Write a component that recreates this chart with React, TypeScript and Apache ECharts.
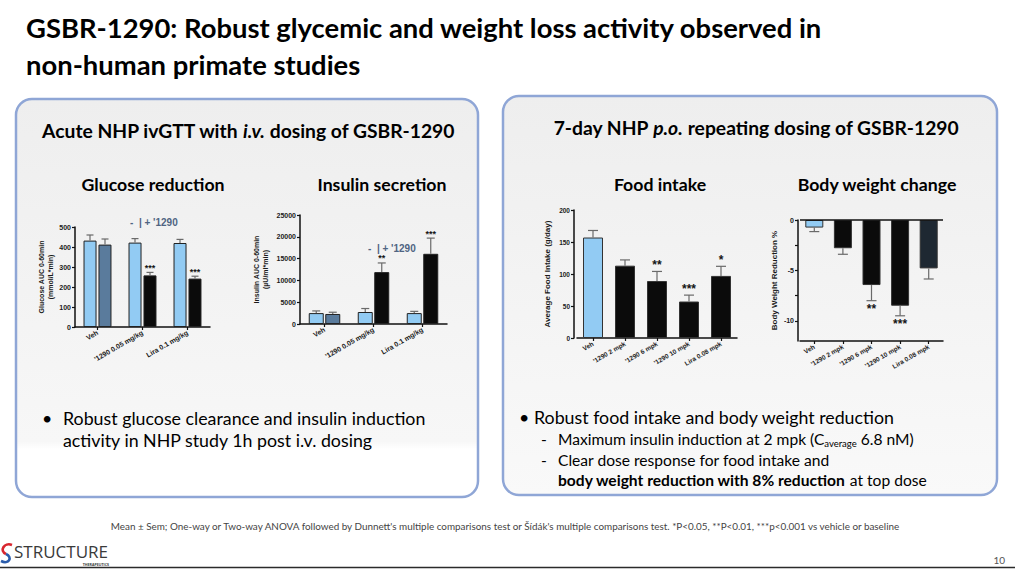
import React, { useEffect, useRef } from "react";
import * as echarts from "echarts";

const FONT = "Lato, 'Noto Sans', sans-serif";
const AXF = "'Liberation Sans', Arial, sans-serif";

const LIGHT = "#92cbf3";
const SLATE = "#5a7b9c";
const BLACK = "#0b0b0b";
const DARKSLATE = "#1e2832";
const ERR = "#6a6a6a";

// ---- Glucose reduction (ivGTT) ----
const ivCategories = ["Veh", "'1290 0.05 mg/kg", "Lira 0.1 mg/kg"];
const glucoseMinus = [432, 422, 420];
const glucoseMinusErr = [28, 20, 18];
const glucosePlus = [412, 258, 242];
const glucosePlusErr = [28, 15, 12];
const glucosePlusStars = ["", "***", "***"];
const glucoseTicks = { min: 0, max: 500, interval: 100 };

// ---- Insulin secretion (ivGTT) ----
const insulinMinus = [2500, 2750, 2500];
const insulinMinusErr = [500, 800, 400];
const insulinPlus = [2300, 11900, 16100];
const insulinPlusErr = [400, 2100, 3600];
const insulinPlusStars = ["", "**", "***"];
const insulinTicks = { min: 0, max: 25000, interval: 5000 };

// ---- 7-day p.o. dosing ----
const doseCategories = ["Veh", "'1290 2 mpk", "'1290 6 mpk", "'1290 10 mpk", "Lira 0.08 mpk"];
const foodIntake = [157, 113, 89, 57, 97];
const foodErr = [11, 9, 15, 10, 15];
const foodStars = ["", "", "**", "***", "*"];
const foodTicks = { min: 0, max: 200, interval: 50 };

const bodyWeight = [-0.75, -2.8, -6.45, -8.5, -4.8];
const bodyErr = [0.4, 0.6, 1.55, 1.0, 1.05];
const bodyStars = ["", "", "**", "***", ""];
const bodyLabels = [0, -5, -10];
const bodyTickValues = [0, -2.5, -5, -7.5, -10];

const ivColorsPlus = [SLATE, BLACK, BLACK];
const foodColors = [LIGHT, BLACK, BLACK, BLACK, BLACK];
const bodyColors = [LIGHT, BLACK, BLACK, BLACK, DARKSLATE];

function barData(values: number[], colors: string[]) {
  return values.map((v, i) => ({ value: v, itemStyle: { color: colors[i] } }));
}

function errSeries(
  xi: number,
  values: number[],
  errs: number[],
  stars: string[],
  offsetPx: number,
  capHalf: number,
  dir: number,
  starSize: number,
  starGap: number
) {
  return {
    type: "custom",
    xAxisIndex: xi,
    yAxisIndex: xi,
    z: 5,
    silent: true,
    data: values.map((v, i) => [i, v, v + dir * errs[i]]),
    encode: { x: 0, y: [1, 2] },
    renderItem: (params: any, api: any) => {
      const i = api.value(0);
      const base = api.coord([i, api.value(1)]);
      const tip = api.coord([i, api.value(2)]);
      const x = base[0] + offsetPx;
      const star = stars[params.dataIndex];
      const children: any[] = [
        { type: "line", shape: { x1: x, y1: base[1], x2: x, y2: tip[1] }, style: { stroke: ERR, lineWidth: 1.2 } },
        { type: "line", shape: { x1: x - capHalf, y1: tip[1], x2: x + capHalf, y2: tip[1] }, style: { stroke: ERR, lineWidth: 1.2 } },
      ];
      if (star) {
        children.push({
          type: "text",
          x,
          y: tip[1] + (dir > 0 ? -starGap : starGap),
          style: {
            text: star,
            fill: "#151515",
            font: `bold ${starSize}px ${AXF}`,
            align: "center",
            verticalAlign: dir > 0 ? "bottom" : "top",
          },
        });
      }
      return { type: "group", children };
    },
  };
}

const axisLineStyle = { lineStyle: { color: "#111", width: 1.5 } };

function catAxis(gridIndex: number, cats: string[], fontSize: number, extra: any = {}) {
  return {
    type: "category",
    gridIndex,
    data: cats,
    axisLine: { show: true, onZero: false, ...axisLineStyle },
    axisTick: { show: true, alignWithLabel: true, length: 3, lineStyle: { color: "#111", width: 1.2 } },
    axisLabel: {
      rotate: 30,
      interval: 0,
      margin: 5,
      fontSize,
      fontWeight: "bold",
      fontFamily: AXF,
      color: "#1a1a1a",
    },
    ...extra,
  };
}

const plainNum = (v: number) => String(v);

function valAxis(gridIndex: number, t: any, name: string, nameGap: number, nameSize: number, labelSize: number, extra: any = {}) {
  return {
    type: "value",
    gridIndex,
    min: t.min,
    max: t.max,
    interval: t.interval,
    name,
    nameLocation: "middle",
    nameGap,
    nameRotate: 90,
    nameTextStyle: { fontSize: nameSize, fontWeight: "bold", fontFamily: AXF, color: "#1a1a1a", lineHeight: nameSize + 2 },
    axisLine: { show: true, ...axisLineStyle },
    axisTick: { show: true, length: 3, lineStyle: { color: "#111", width: 1.2 } },
    axisLabel: { fontSize: labelSize, fontWeight: "bold", fontFamily: AXF, color: "#1a1a1a", margin: 4, formatter: plainNum },
    splitLine: { show: false },
    ...extra,
  };
}

function txt(x: number, y: number, text: string, size: number, weight: string | number, align = "left", fill = "#000", extra: any = {}) {
  return {
    type: "text",
    x,
    y,
    z: 20,
    style: {
      text,
      fill,
      fontSize: size,
      fontWeight: weight,
      fontFamily: FONT,
      align,
      verticalAlign: "middle",
      textAlign: align,
      textVerticalAlign: "middle",
      ...extra,
    },
  };
}

function richTxt(x: number, y: number, text: string, rich: any, align = "left") {
  return {
    type: "text",
    x,
    y,
    z: 20,
    style: { text, rich, align, verticalAlign: "middle", textAlign: align, textVerticalAlign: "middle" },
  };
}

export default function App() {
  const ref = useRef<HTMLDivElement>(null);

  useEffect(() => {
    if (!ref.current) return;
    const chart = echarts.init(ref.current, undefined, { renderer: "svg" });

    const panelFill = new echarts.graphic.LinearGradient(0, 0, 0, 1, [
      { offset: 0, color: "#eeeeee" },
      { offset: 0.86, color: "#f7f7f7" },
      { offset: 0.88, color: "#ffffff" },
      { offset: 1, color: "#ffffff" },
    ]);
    const panelFill2 = new echarts.graphic.LinearGradient(0, 0, 0, 1, [
      { offset: 0, color: "#eeeeee" },
      { offset: 1, color: "#f9f9f9" },
    ]);

    const bodyRich = {
      n: { fontSize: 17.8, fontFamily: FONT, color: "#000", lineHeight: 22 },
    };
    const subRich = {
      n: { fontSize: 15.6, fontFamily: FONT, color: "#000", lineHeight: 18, verticalAlign: "middle" },
      s: { fontSize: 9.5, fontFamily: FONT, color: "#000", lineHeight: 10, verticalAlign: "bottom" },
      b: { fontSize: 15.6, fontFamily: FONT, color: "#000", fontWeight: "bold", lineHeight: 18 },
    };
    const headRich = (size: number) => ({
      b: { fontSize: size, fontFamily: FONT, fontWeight: "bold", color: "#000" },
      i: { fontSize: size, fontFamily: FONT, fontWeight: "bold", fontStyle: "italic", color: "#000" },
    });

    const option: any = {
      animation: false,
      backgroundColor: "#ffffff",
      grid: [
        { left: 75, top: 227, width: 135, height: 100 },
        { left: 300, top: 215, width: 147, height: 109 },
        { left: 577, top: 210, width: 160, height: 128 },
        { left: 800, top: 220, width: 143, height: 121 },
      ],
      xAxis: [
        catAxis(0, ivCategories, 7),
        catAxis(1, ivCategories, 7),
        catAxis(2, doseCategories, 6.5),
        catAxis(3, doseCategories, 6.5, { position: "bottom" }),
      ],
      yAxis: [
        valAxis(0, glucoseTicks, "Glucose AUC 0-60min\n(mmol/L*min)", 18, 7, 7),
        valAxis(1, insulinTicks, "Insulin AUC 0-60min\n(µU/ml*min)", 30, 7, 7),
        valAxis(2, foodTicks, "Average Food Intake (g/day)", 22, 8, 6.5, { offset: 3 }),
        valAxis(3, { min: -12, max: 0 }, "Body Weight Reduction %", 17, 8, 7, {
          offset: 2,
          interval: undefined,
          axisLabel: { customValues: bodyLabels, fontSize: 7, fontWeight: "bold", fontFamily: AXF, color: "#1a1a1a", margin: 4 },
          axisTick: { show: true, length: 3, customValues: bodyTickValues, lineStyle: { color: "#111", width: 1.2 } },
        }),
      ],
      series: [
        // Glucose
        {
          type: "bar", xAxisIndex: 0, yAxisIndex: 0, barWidth: 13, barGap: "15%",
          data: barData(glucoseMinus, ivCategories.map(() => LIGHT)),
          itemStyle: { borderColor: "#222", borderWidth: 1 },
        },
        {
          type: "bar", xAxisIndex: 0, yAxisIndex: 0, barWidth: 13, barGap: "15%",
          data: barData(glucosePlus, ivColorsPlus),
          itemStyle: { borderColor: "#222", borderWidth: 1 },
        },
        errSeries(0, glucoseMinus, glucoseMinusErr, ["", "", ""], -7.5, 3.5, 1, 9, 0),
        errSeries(0, glucosePlus, glucosePlusErr, glucosePlusStars, 7.5, 3.5, 1, 9, 0),
        // Insulin
        {
          type: "bar", xAxisIndex: 1, yAxisIndex: 1, barWidth: 15, barGap: "10%",
          data: barData(insulinMinus, ivCategories.map(() => LIGHT)),
          itemStyle: { borderColor: "#222", borderWidth: 1 },
        },
        {
          type: "bar", xAxisIndex: 1, yAxisIndex: 1, barWidth: 15, barGap: "10%",
          data: barData(insulinPlus, ivColorsPlus),
          itemStyle: { borderColor: "#222", borderWidth: 1 },
        },
        errSeries(1, insulinMinus, insulinMinusErr, ["", "", ""], -8.25, 4, 1, 9, 0),
        errSeries(1, insulinPlus, insulinPlusErr, insulinPlusStars, 8.25, 4, 1, 9, 0),
        // Food intake
        {
          type: "bar", xAxisIndex: 2, yAxisIndex: 2, barWidth: 20,
          data: barData(foodIntake, foodColors),
          itemStyle: { borderColor: "#333", borderWidth: 1 },
        },
        errSeries(2, foodIntake, foodErr, foodStars, 0, 5, 1, 12, 0),
        // Body weight
        {
          type: "bar", xAxisIndex: 3, yAxisIndex: 3, barWidth: 18,
          data: barData(bodyWeight, bodyColors),
          itemStyle: { borderColor: "#333", borderWidth: 1 },
          markLine: {
            silent: true,
            symbol: "none",
            label: { show: false },
            lineStyle: { color: "#111", width: 1.5, type: "solid" },
            data: [{ yAxis: 0 }],
          },
        },
        errSeries(3, bodyWeight, bodyErr, bodyStars, 0, 5, -1, 12, 2),
      ],
      graphic: [
        // panels
        {
          type: "rect", z: -10,
          shape: { x: 16, y: 99, width: 462, height: 398, r: 16 },
          style: { fill: panelFill, stroke: "#8fa6d6", lineWidth: 2.5 },
        },
        {
          type: "rect", z: -10,
          shape: { x: 503, y: 96, width: 494, height: 399, r: 16 },
          style: { fill: panelFill2, stroke: "#8fa6d6", lineWidth: 2.5 },
        },
        // title
        txt(26, 27, "GSBR-1290: Robust glycemic and weight loss activity observed in", 27.4, "bold"),
        txt(26, 64, "non-human primate studies", 27.4, "bold"),
        // panel headings
        richTxt(248, 130, "{b|Acute NHP ivGTT with }{i|i.v.}{b| dosing of GSBR-1290}", headRich(19.3), "center"),
        richTxt(756, 127, "{b|7-day NHP }{i|p.o.}{b| repeating dosing of GSBR-1290}", headRich(19.3), "center"),
        // chart titles
        txt(153, 184, "Glucose reduction", 17.7, "bold", "center"),
        txt(382, 184, "Insulin secretion", 17.7, "bold", "center"),
        txt(660, 184, "Food intake", 17.7, "bold", "center"),
        txt(877, 184, "Body weight change", 17.7, "bold", "center"),
        // legends in charts
        {
          type: "text", x: 130, y: 222, z: 20,
          style: { text: "-  | + '1290", fill: "#4f6482", font: `bold 10px ${AXF}`, align: "left", verticalAlign: "middle" },
        },
        {
          type: "text", x: 368, y: 248, z: 20,
          style: { text: "-  | + '1290", fill: "#4f6482", font: `bold 10px ${AXF}`, align: "left", verticalAlign: "middle" },
        },
        // left bullets
        txt(42, 418, "•", 17.8, "normal"),
        richTxt(63, 418, "{n|Robust glucose clearance and insulin induction}", bodyRich),
        richTxt(63, 440, "{n|activity in NHP study 1h post i.v. dosing}", bodyRich),
        // right bullets
        txt(519, 417, "•", 17.8, "normal"),
        richTxt(534, 417, "{n|Robust food intake and body weight reduction}", bodyRich),
        txt(541, 439, "-", 15.6, "normal"),
        richTxt(558, 439, "{n|Maximum insulin induction at 2 mpk (C}{s|average}{n| 6.8 nM)}", subRich),
        txt(541, 460, "-", 15.6, "normal"),
        richTxt(558, 460, "{n|Clear dose response for food intake and}", subRich),
        richTxt(558, 480, "{b|body weight reduction with 8% reduction}{n| at top dose}", subRich),
        // footnote
        txt(505, 526,
          "Mean ± Sem; One-way or Two-way ANOVA followed by Dunnett's multiple comparisons test or Šídák's multiple comparisons test. *P<0.05, **P<0.01, ***p<0.001 vs vehicle or baseline",
          9.9, "normal", "center", "#444"),
        // logo
        {
          type: "bezierCurve", z: 20,
          shape: { x1: 12, y1: 545, cpx1: 4, cpy1: 542, cpx2: -1, cpy2: 551, x2: 6, y2: 554 },
          style: { stroke: "#d8262f", lineWidth: 2.6, fill: "none" },
        },
        {
          type: "bezierCurve", z: 20,
          shape: { x1: 6, y1: 554, cpx1: 13, cpy1: 557, cpx2: 9, cpy2: 565, x2: 1, y2: 561 },
          style: { stroke: "#2a5cab", lineWidth: 2.6, fill: "none" },
        },
        {
          type: "text", x: 14, y: 551, z: 20,
          style: { text: "STRUCTURE", fill: "#3a3a3a", font: `500 17px 'Open Sans', sans-serif`, align: "left", verticalAlign: "middle" },
        },
        {
          type: "text", x: 109, y: 564.5, z: 20,
          style: { text: "THERAPEUTICS", fill: "#3a3a3a", font: `bold 3.6px 'Open Sans', sans-serif`, align: "right", verticalAlign: "middle" },
        },
        {
          type: "line", z: 20,
          shape: { x1: 0, y1: 567.5, x2: 1015, y2: 567.5 },
          style: { stroke: "#2b2b2b", lineWidth: 1.5 },
        },
        txt(1005, 560, "10", 10, "normal", "right", "#555"),
      ],
    };

    chart.setOption(option);
    return () => chart.dispose();
  }, []);

  return (
    <div
      ref={ref}
      style={{ position: "absolute", left: 0, top: 0, width: 1015, height: 569, background: "#fff" }}
    />
  );
}
